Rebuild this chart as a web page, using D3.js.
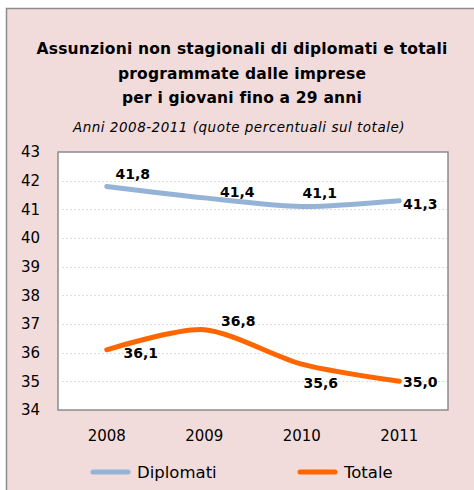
<!DOCTYPE html>
<html>
<head>
<meta charset="utf-8">
<script src="https://cdn.jsdelivr.net/npm/d3@7"></script>
<style>
  body { margin: 0; background: #fff; }
  svg { display: block; }
</style>
</head>
<body>
<div id="chart"></div>
<script>
/*
Chart data
*/
var years = ["2008", "2009", "2010", "2011"];
var diplomati = [41.8, 41.4, 41.1, 41.3];
var totale = [36.1, 36.8, 35.6, 35.0];
var yTicks = [34, 35, 36, 37, 38, 39, 40, 41, 42, 43];
var seriesNames = ["Diplomati", "Totale"];

var titleLines = ["Assunzioni non stagionali di diplomati e totali",
                  "programmate dalle imprese",
                  "per i giovani fino a 29 anni"];
var subtitle = "Anni 2008-2011 (quote percentuali sul totale)";

/*
Layout
*/
var width = 474, height = 490;
var plot = {left: 58, right: 448, top: 152, bottom: 410};
var colors = ["#95b3d7", "#ff6600"];
// label offsets (dx, dy) from each point, as placed in the original
var labelOffsets = [
  [[26, -12], [33, -6], [18, -13], [21, 3]],
  [[34, 3], [34, -9], [19, 19], [21, 1]]
];
var titleFont = "'Comic Sans MS', 'DejaVu Sans', sans-serif";
var numFont = "'DejaVu Sans', Verdana, sans-serif";

function drawChart(){
  let svg = d3.select("#chart")
              .append("svg")
              .attr("width", width)
              .attr("height", height);

  // outer frame
  svg.append("rect")
     .attr("x", 6.5)
     .attr("y", 8.5)
     .attr("width", width + 10)
     .attr("height", height + 10)
     .style("fill", "#f2dcdb")
     .style("stroke", "#8c8c8c")
     .style("stroke-width", 1.5);

  // title
  svg.append("g")
     .selectAll("text")
     .data(titleLines)
     .enter()
     .append("text")
     .attr("x", 242)
     .attr("y", function(d, i){ return 54 + i * 24.5; })
     .attr("text-anchor", "middle")
     .style("font-family", titleFont)
     .style("font-weight", "bold")
     .style("font-size", "15.5px")
     .style("letter-spacing", "0.2px")
     .style("fill", "#000")
     .text(function(d){ return d; });

  svg.append("text")
     .attr("x", 239)
     .attr("y", 132)
     .attr("text-anchor", "middle")
     .style("font-family", titleFont)
     .style("font-style", "italic")
     .style("font-size", "13.5px")
     .style("letter-spacing", "0.5px")
     .text(subtitle);

  let x = d3.scaleBand()
            .domain(years)
            .range([plot.left, plot.right]);

  let y = d3.scaleLinear()
            .domain([34, 43])
            .range([plot.bottom, plot.top]);

  // plot area
  svg.append("rect")
     .attr("x", plot.left)
     .attr("y", plot.top)
     .attr("width", plot.right - plot.left)
     .attr("height", plot.bottom - plot.top)
     .style("fill", "#fff");

  // gridlines
  svg.append("g")
     .selectAll("line")
     .data(yTicks.slice(1, -1))
     .enter()
     .append("line")
     .attr("x1", plot.left + 4)
     .attr("x2", plot.right)
     .attr("y1", function(d){ return Math.round(y(d)) + 0.5; })
     .attr("y2", function(d){ return Math.round(y(d)) + 0.5; })
     .style("stroke", "#dcdcdc")
     .style("stroke-width", 1)
     .style("stroke-dasharray", "2,2");

  svg.append("rect")
     .attr("x", plot.left)
     .attr("y", plot.top)
     .attr("width", plot.right - plot.left)
     .attr("height", plot.bottom - plot.top)
     .style("fill", "none")
     .style("stroke", "#8c8c8c")
     .style("stroke-width", 1.5);

  // y axis labels
  let yAxis = svg.append("g")
                 .attr("transform", "translate(40,0)")
                 .call(d3.axisLeft(y).tickValues(yTicks).tickSize(0).tickPadding(0));
  yAxis.select(".domain").remove();
  yAxis.selectAll("text")
       .style("font-family", numFont)
       .style("font-size", "15px")
       .style("fill", "#000");

  // x axis labels
  let xAxis = svg.append("g")
                 .attr("transform", "translate(0," + (plot.bottom + 20) + ")")
                 .call(d3.axisBottom(x).tickSize(0).tickPadding(0));
  xAxis.select(".domain").remove();
  xAxis.selectAll("text")
       .style("font-family", numFont)
       .style("font-size", "15px")
       .style("fill", "#000");

  let line = d3.line()
               .x(function(d, i){ return x(years[i]) + x.bandwidth() / 2; })
               .y(function(d){ return y(d); })
               .curve(d3.curveCardinal.tension(0.2));

  let series = [diplomati, totale];

  svg.append("g")
     .selectAll("path")
     .data(series)
     .enter()
     .append("path")
     .attr("d", line)
     .style("fill", "none")
     .style("stroke", function(d, i){ return colors[i]; })
     .style("stroke-width", 5)
     .style("stroke-linecap", "round");

  // data labels
  series.forEach(function(values, s){
    svg.append("g")
       .selectAll("text")
       .data(values)
       .enter()
       .append("text")
       .attr("x", function(d, i){ return x(years[i]) + x.bandwidth() / 2 + labelOffsets[s][i][0]; })
       .attr("y", function(d, i){ return y(d) + labelOffsets[s][i][1]; })
       .attr("dy", "0.35em")
       .attr("text-anchor", "middle")
       .style("font-family", numFont)
       .style("font-weight", "bold")
       .style("font-size", "14px")
       .text(function(d){ return d.toFixed(1).replace(".", ","); });
  });

  // legend
  let legend = svg.append("g")
                  .selectAll("g")
                  .data(seriesNames)
                  .enter()
                  .append("g")
                  .attr("transform", function(d, i){ return "translate(" + (93 + i * 207) + ",472)"; });

  legend.append("line")
        .attr("x1", 0)
        .attr("x2", 35)
        .style("stroke", function(d, i){ return colors[i]; })
        .style("stroke-width", 5)
        .style("stroke-linecap", "round");

  legend.append("text")
        .attr("x", 44)
        .attr("dy", "0.35em")
        .style("font-family", titleFont)
        .style("font-size", "16.5px")
        .text(function(d){ return d; });
}

drawChart();
</script>
</body>
</html>
